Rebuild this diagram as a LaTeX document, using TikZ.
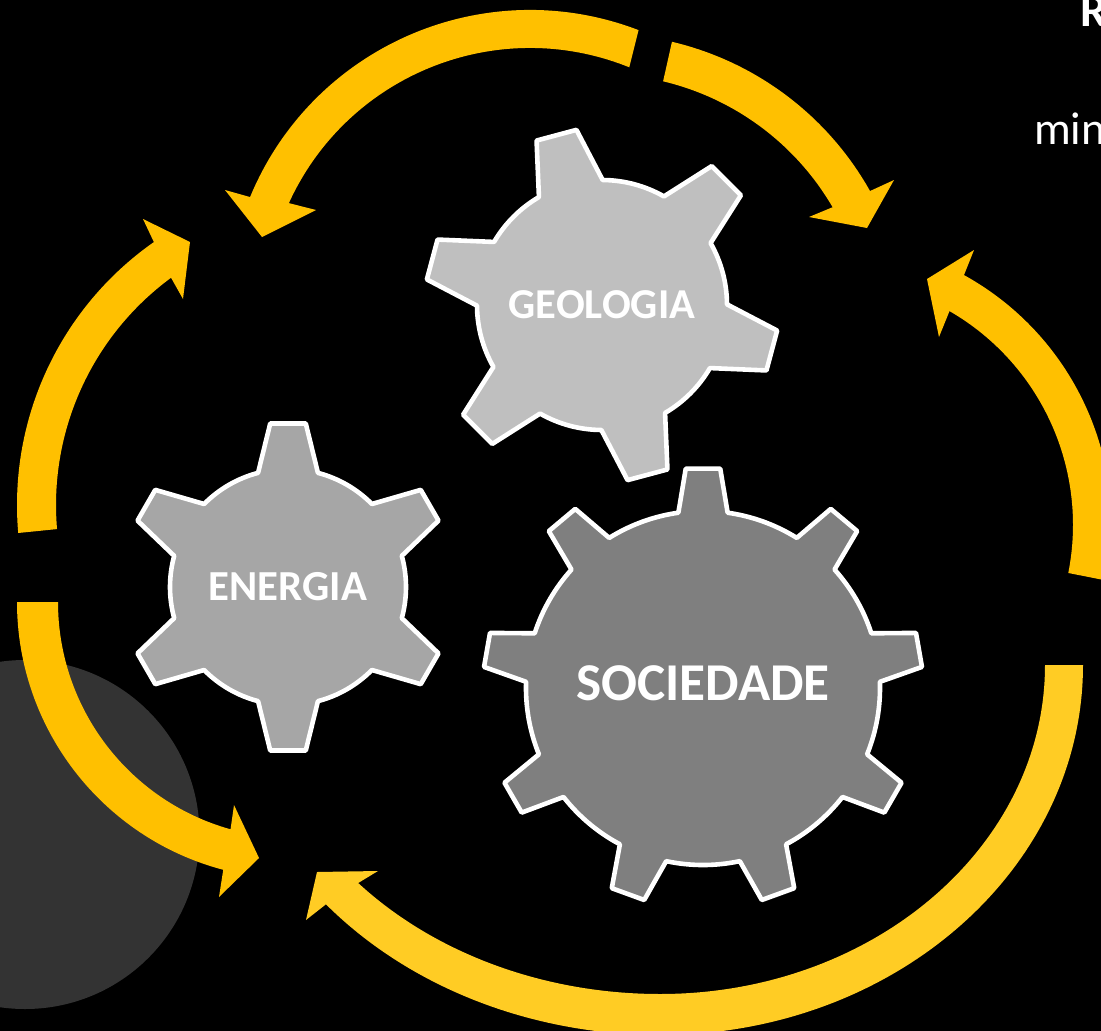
\documentclass[tikz,border=0pt]{standalone}
\usepackage{fontspec}
\setmainfont{Carlito}
\definecolor{amber}{HTML}{FFC000}
\definecolor{amberlight}{HTML}{FFCC24}
\definecolor{geargeo}{HTML}{BFBFBF}
\definecolor{gearene}{HTML}{A6A6A6}
\definecolor{gearsoc}{HTML}{7F7F7F}
\definecolor{disc}{HTML}{333333}
\tikzset{
  gearline/.style={draw=white,line width=4.6pt,line join=round},
  geartext/.style={text=white,font=\bfseries,anchor=base,inner sep=0pt},
  sidetext/.style={text=white,anchor=base west,inner sep=0pt}
}
% centre x, y, root radius, tip radius, teeth, phase, root half angle, tip half angle, colour
\newcommand{\gearshape}[9]{%
  \begin{scope}[shift={(#1,#2)},y=1pt]
    \draw[gearline,fill=#9] (#6+#7:#3)
      \foreach \i [evaluate=\i as \t using #6-\i*360/#5] in {0,...,\numexpr#5-1\relax}{
        -- (\t+#7:#3) -- (\t+#8:#4) -- (\t-#8:#4) -- (\t-#7:#3)
        arc[start angle=\t-#7,end angle=\t-360/#5+#7,radius=#3pt]
      } -- cycle;
  \end{scope}}
% centre x, y, outer r, inner r, outer tail, outer head, inner head, inner tail, head points
\newcommand{\bandarrow}[9]{%
  \begin{scope}[shift={(#1,#2)},y=1pt]
    \fill[amber] (#5:#3) arc[start angle=#5,end angle=#6,radius=#3pt]
      #9 -- (#7:#4) arc[start angle=#7,end angle=#8,radius=#4pt] -- cycle;
  \end{scope}}
\begin{document}
\begin{tikzpicture}[x=1pt,y=-1pt]
\useasboundingbox (0,0) rectangle (1101,1031);
\clip (0,0) rectangle (1101,1031);
\fill[black] (0,0) rectangle (1101,1031);
\fill[disc] (25,834.5) circle[radius=174.5pt];

\coordinate (a1p) at (225,190); \coordinate (a1t) at (262,237); \coordinate (a1q) at (316,210);
\coordinate (a2p) at (894,180); \coordinate (a2t) at (867,228); \coordinate (a2q) at (809,217);
\coordinate (a3p) at (974,250); \coordinate (a3t) at (927,279); \coordinate (a3q) at (939,337);
\coordinate (a4p) at (143,219); \coordinate (a4t) at (190,242); \coordinate (a4q) at (183,299);
\coordinate (a5p) at (219,897); \coordinate (a5t) at (259,858); \coordinate (a5q) at (234,805);
\coordinate (a6p) at (306,920); \coordinate (a6t) at (317,872); \coordinate (a6q) at (378,871);

\bandarrow{530}{313}{303}{265}{69}{157.5}{155.5}{68}{-- (a1p) -- (a1t) -- (a1q)}
\bandarrow{601}{342}{308.5}{268}{76.7}{29.3}{30.2}{76.6}{-- (a2p) -- (a2t) -- (a2q)}
\bandarrow{826}{525}{285.5}{247}{-11.2}{61.1}{60}{-11.2}{-- (a3p) -- (a3t) -- (a3q)}
\bandarrow{338}{505}{321}{282}{185}{125}{126.3}{184.9}{-- (a4p) -- (a4t) -- (a4q)}
\bandarrow{294}{602}{277}{236}{180}{255.2}{254.4}{180}{-- (a5p) -- (a5t) -- (a5q)}

\begin{scope}[shift={(660,665)},y=1pt]
  \fill[amberlight] (423,0)
    arc[start angle=0,end angle=-90,x radius=423pt,y radius=370pt]
    arc[start angle=-90,end angle=-139.7,x radius=438pt,y radius=370pt]
    -- (a6p) -- (a6t) -- (a6q)
    -- (-138.5:403 and 329)
    arc[start angle=-138.5,end angle=-90,x radius=403pt,y radius=329pt]
    arc[start angle=-90,end angle=0,x radius=385pt,y radius=329pt]
    -- cycle;
\end{scope}

\gearshape{602}{305}{125}{177}{6}{105}{15.3}{6.7}{geargeo}
\gearshape{288}{587}{118}{164.5}{6}{90}{14.7}{6.2}{gearene}
\gearshape{703}{688}{177}{220}{9}{90}{8}{4.5}{gearsoc}

\node[geartext,font=\bfseries\fontsize{42.6}{50}\selectfont] (geo) at (602,318) {GEOLOGIA};
\node[geartext,font=\bfseries\fontsize{42.8}{50}\selectfont] (ene) at (288,600) {ENERGIA};
\node[geartext,font=\bfseries\fontsize{53.2}{60}\selectfont] (soc) at (703,700) {SOCIEDADE};
\node[sidetext,font=\bfseries\fontsize{48}{50}\selectfont] (rr) at (1080,26) {R};
\node[sidetext,font=\fontsize{46}{50}\selectfont] (mm) at (1034,144) {min};
\end{tikzpicture}
\end{document}
